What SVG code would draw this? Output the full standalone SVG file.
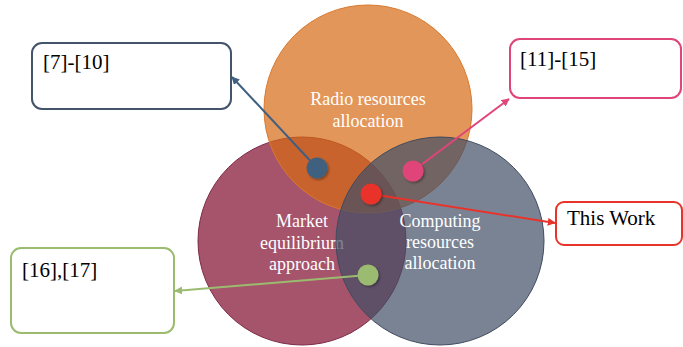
<svg xmlns="http://www.w3.org/2000/svg" width="683" height="347" viewBox="0 0 683 347">
<style>
.lbl{font-family:"Liberation Serif","Times New Roman",serif;font-size:18px;fill:#ffffff;text-anchor:middle}
.ref{font-family:"Liberation Serif","Times New Roman",serif;font-size:21px;fill:#000000}
.box{fill:#ffffff;stroke-width:2}
.con{fill:none;stroke-width:2}
</style>
<defs>
<filter id="sh" x="-50%" y="-50%" width="200%" height="200%">
<feDropShadow dx="1.5" dy="1.5" stdDeviation="1" flood-color="#000" flood-opacity="0.35"/>
</filter>
<marker id="mb" viewBox="0 0 10 10" refX="9" refY="5" markerWidth="4" markerHeight="4" orient="auto"><path d="M0,0L10,5L0,10z" fill="#41607F"/></marker>
<marker id="mp" viewBox="0 0 10 10" refX="9" refY="5" markerWidth="4" markerHeight="4" orient="auto"><path d="M0,0L10,5L0,10z" fill="#E0457A"/></marker>
<marker id="mr" viewBox="0 0 10 10" refX="9" refY="5" markerWidth="4" markerHeight="4" orient="auto"><path d="M0,0L10,5L0,10z" fill="#E8332A"/></marker>
<marker id="mg" viewBox="0 0 10 10" refX="9" refY="5" markerWidth="4" markerHeight="4" orient="auto"><path d="M0,0L10,5L0,10z" fill="#9BBB6F"/></marker>
</defs>
<g id="market">
<circle cx="302" cy="241" r="104" fill="#A5546C" stroke="#7E2A45" stroke-width="1"/>
<text class="lbl" x="302" y="227">Market</text>
<text class="lbl" x="302" y="249">equilibrium</text>
<text class="lbl" x="302" y="270">approach</text>
</g>
<g id="radio">
<circle cx="368" cy="109" r="104" fill="#D76913" fill-opacity="0.7" stroke="#D9782D" stroke-width="1"/>
<text class="lbl" x="368" y="105">Radio resources</text>
<text class="lbl" x="368" y="127">allocation</text>
</g>
<g id="computing">
<circle cx="440" cy="241" r="104" fill="#414F66" fill-opacity="0.7" stroke="#3F4B5E" stroke-width="1"/>
<text class="lbl" x="440" y="227">Computing</text>
<text class="lbl" x="440" y="248">resources</text>
<text class="lbl" x="440" y="269">allocation</text>
</g>
<g id="box-7-10">
<rect class="box" x="32" y="43" width="199" height="66" rx="10" stroke="#44546A"/>
<text class="ref" x="43" y="69">[7]-[10]</text>
</g>
<g id="box-11-15">
<rect class="box" x="510" y="39" width="171" height="59" rx="10" stroke="#E0457A"/>
<text class="ref" x="520" y="66">[11]-[15]</text>
</g>
<g id="box-this-work">
<rect class="box" x="556" y="202" width="126" height="43" rx="8" stroke="#E8332A"/>
<text class="ref" x="567" y="225">This Work</text>
</g>
<g id="box-16-17">
<rect class="box" x="11" y="248" width="163" height="85" rx="10" stroke="#9BBB6F"/>
<text class="ref" x="22" y="277">[16],[17]</text>
</g>
<g id="connectors">
<line class="con" x1="317" y1="168" x2="232" y2="77" stroke="#41607F" marker-end="url(#mb)"/>
<line class="con" x1="413" y1="171" x2="509" y2="99" stroke="#E0457A" marker-end="url(#mp)"/>
<line class="con" x1="371" y1="194" x2="555" y2="223" stroke="#E8332A" marker-end="url(#mr)"/>
<line class="con" x1="368" y1="275" x2="175" y2="291" stroke="#9BBB6F" marker-end="url(#mg)"/>
<g filter="url(#sh)">
<circle cx="317" cy="168" r="10.5" fill="#41607F"/>
<circle cx="413" cy="171" r="10.5" fill="#E0457A"/>
<circle cx="371" cy="194" r="10.5" fill="#E8332A"/>
<circle cx="368" cy="275" r="10.5" fill="#9BBB6F"/>
</g>
</g>
</svg>
